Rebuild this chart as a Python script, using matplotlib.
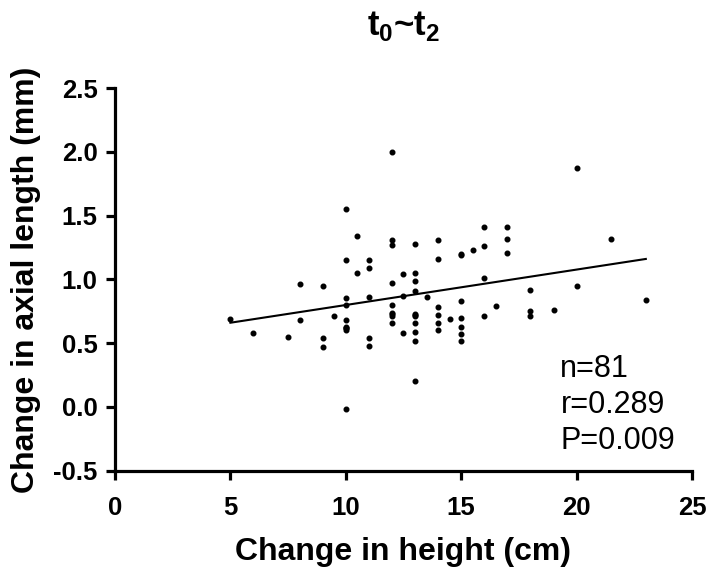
import matplotlib
matplotlib.use("Agg")
import matplotlib.pyplot as plt
from matplotlib import font_manager

names = {f.name for f in font_manager.fontManager.ttflist}
cond = 'Liberation Sans Narrow' if 'Liberation Sans Narrow' in names else 'Liberation Sans'

plt.rcParams['axes.unicode_minus'] = False
plt.rcParams['mathtext.fontset'] = 'custom'
plt.rcParams['mathtext.rm'] = cond + ':bold'
plt.rcParams['mathtext.bf'] = cond + ':bold'

# data: change in height (cm) vs change in axial length (mm)
height_change = [5, 6, 7.5, 8, 8, 9, 9, 9, 9.5,
                 10, 10, 10, 10, 10, 10, 10, 10, 10, 10,
                 10.5, 10.5, 11, 11, 11, 11, 11,
                 12, 12, 12, 12, 12, 12, 12, 12, 12,
                 12.5, 12.5, 12.5,
                 13, 13, 13, 13, 13, 13, 13, 13, 13, 13, 13,
                 13.5, 14, 14, 14, 14, 14, 14, 14.5,
                 15, 15, 15, 15, 15, 15, 15, 15.5,
                 16, 16, 16, 16, 16.5, 17, 17, 17,
                 18, 18, 18, 19, 20, 20, 21.5, 23]
axial_change = [0.69, 0.58, 0.55, 0.96, 0.68, 0.95, 0.54, 0.47, 0.71,
                1.55, 1.15, 0.85, 0.80, 0.68, 0.63, 0.615, 0.60, 0.62, -0.02,
                1.34, 1.05, 1.15, 1.09, 0.86, 0.54, 0.48,
                2.00, 1.31, 1.27, 0.97, 0.80, 0.735, 0.71, 0.725, 0.66,
                1.04, 0.87, 0.58,
                1.28, 1.05, 0.99, 0.91, 0.73, 0.715, 0.72, 0.66, 0.59, 0.52, 0.20,
                0.86, 1.31, 1.16, 0.78, 0.72, 0.66, 0.60, 0.69,
                1.20, 1.19, 0.83, 0.70, 0.63, 0.57, 0.52, 1.23,
                1.41, 1.26, 1.01, 0.71, 0.79, 1.41, 1.32, 1.21,
                0.92, 0.75, 0.71, 0.76, 1.87, 0.95, 1.32, 0.84]
fit_x = [5, 23]
fit_y = [0.66, 1.16]
stats_text = ["n=81", "r=0.289", "P=0.009"]
x_ticks = [0, 5, 10, 15, 20, 25]
y_ticks = [-0.5, 0.0, 0.5, 1.0, 1.5, 2.0, 2.5]

fig = plt.figure(figsize=(7.09, 5.76), dpi=100)
ax = fig.add_axes([0.1622, 0.1828, 0.8138, 0.6644])

ax.scatter(height_change, axial_change, s=11, color='black', zorder=3, clip_on=False)
ax.plot(fit_x, fit_y, color='black', lw=1.5)

ax.set_xlim(0, 25)
ax.set_ylim(-0.5, 2.5)
ax.set_xticks(x_ticks)
ax.set_yticks(y_ticks)
ax.set_xticklabels([str(t) for t in x_ticks])
ax.set_yticklabels([f"{t:.1f}" for t in y_ticks])

for s in ['top', 'right']:
    ax.spines[s].set_visible(False)
for s in ['left', 'bottom']:
    ax.spines[s].set_linewidth(2.3)
ax.tick_params(width=2.3, length=6.5, direction='out')
ax.tick_params(axis='x', pad=12)
ax.tick_params(axis='y', pad=6)
for lab in ax.get_xticklabels() + ax.get_yticklabels():
    lab.set_fontfamily(cond)
    lab.set_fontweight('bold')
    lab.set_fontsize(18.5)

ax.set_xlabel("Change in height (cm)", fontfamily=cond, fontweight='bold', fontsize=23, labelpad=12)
ax.set_ylabel("Change in axial length (mm)", fontfamily=cond, fontweight='bold', fontsize=23, labelpad=9)
ax.set_title("t$_0$~t$_2$", fontfamily=cond, fontweight='bold', fontsize=25, pad=38)

for i, t in enumerate(stats_text):
    ax.text(0.772, 0.265 - i * 0.094, t, transform=ax.transAxes, fontfamily='Liberation Sans',
            fontsize=22, va='center', ha='left')

fig.savefig("out.png", dpi=100)
